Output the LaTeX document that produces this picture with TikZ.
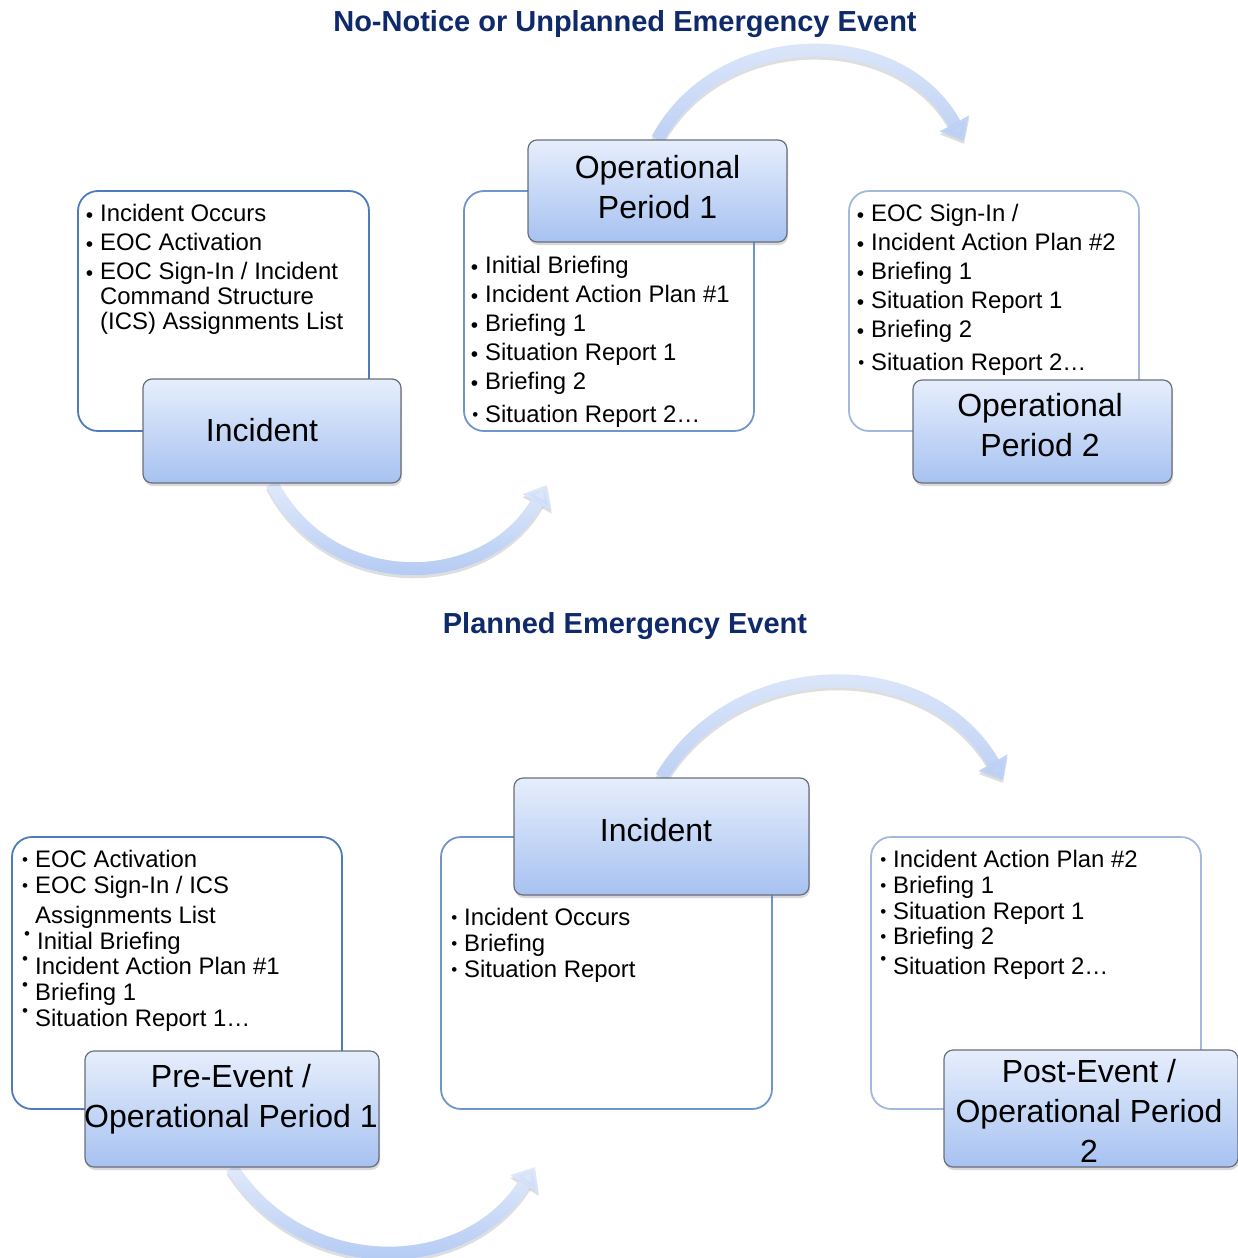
\documentclass[tikz,border=0pt]{standalone}
\usepackage{fontspec}
\setmainfont{Liberation Sans}
\usetikzlibrary{arrows.meta,shadows,fadings}
\definecolor{ttlcol}{HTML}{0F2A6B}
\definecolor{bordA}{HTML}{4E7CBA}
\definecolor{bordB}{HTML}{7095CC}
\definecolor{bordC}{HTML}{A2B8DC}
\definecolor{hdrtop}{HTML}{E6EEFC}
\definecolor{hdrbot}{HTML}{A7C2F1}
\definecolor{hdrline}{HTML}{6A6E78}
\definecolor{arrlight}{HTML}{E4ECFC}
\definecolor{arrdark}{HTML}{A9C3F1}
\definecolor{arrmid}{HTML}{BCD0F4}
\pgfdeclarelayer{bg}
\pgfsetlayers{bg,main}
\newcommand\bulmark[2]{\llap{\raisebox{#2}{\fontsize{#1}{#1}\selectfont •}\hspace{7pt}}}
\newcommand\bl{\bulmark{21}{-1pt}}
\newcommand\bm{\bulmark{17}{1.5pt}}
\newcommand\bh{\bulmark{17}{10pt}}
\tikzset{
  tbox/.style={rounded corners=20pt, line width=1.8pt, fill=white},
  hdr/.style={rounded corners=9pt, draw=hdrline, line width=1.2pt,
    top color=hdrtop, bottom color=hdrbot,
    drop shadow={shadow xshift=1pt, shadow yshift=-3pt, opacity=0.3}},
  hdrtxt/.style={font=\fontsize{32}{40}\selectfont, align=center, inner sep=0pt},
  itm/.style={anchor=base west, inner sep=0pt, font=\fontsize{23.9}{25}\selectfont},
  ttl/.style={anchor=base, inner sep=0pt, font=\fontsize{29}{32}\selectfont\bfseries, text=ttlcol},
  flow/.style={line width=13pt, -{Triangle[width=32pt,length=20pt]}},
  flowshadow/.style={flow, black, opacity=0.13, transform canvas={yshift=-3pt}},
}
\begin{document}
\begin{tikzpicture}[x=1pt,y=-1pt]
\useasboundingbox (0,0) rectangle (1238,1258);

% titles
\node[ttl] (t1) at (625,31) {No-Notice or Unplanned Emergency Event};
\node[ttl] (t2) at (625,633) {Planned Emergency Event};

% ---------- top section ----------
\node[tbox, draw=bordA, minimum width=291pt, minimum height=240pt] (bA) at (223.5,311) {};
\node[tbox, draw=bordB, minimum width=290pt, minimum height=240pt] (bB) at (609,311) {};
\node[tbox, draw=bordC, minimum width=290pt, minimum height=240pt] (bC) at (994,311) {};

\node[hdr, minimum width=258pt, minimum height=104pt] (hA) at (272,431) {};
\node[hdr, minimum width=259pt, minimum height=102pt] (hB) at (657.5,191) {};
\node[hdr, minimum width=259pt, minimum height=103pt] (hC) at (1042.5,431.5) {};

\node[hdrtxt] (hAt) at (262,430) {Incident};
\node[hdrtxt] (hBt) at (657.5,187) {Operational\\Period 1};
\node[hdrtxt] (hCt) at (1040,425.5) {Operational\\Period 2};

\node[itm] (a1) at (100,221) {\bl Incident Occurs};
\node[itm] (a2) at (100,250) {\bl EOC Activation};
\node[itm] (a3) at (100,279) {\bl EOC Sign-In / Incident};
\node[itm] (a4) at (100,304) {Command Structure};
\node[itm] (a5) at (100,329) {(ICS) Assignments List};

\node[itm] (b1) at (485,273) {\bl Initial Briefing};
\node[itm] (b2) at (485,302) {\bl Incident Action Plan \#1};
\node[itm] (b3) at (485,331) {\bl Briefing 1};
\node[itm] (b4) at (485,360) {\bl Situation Report 1};
\node[itm] (b5) at (485,389) {\bl Briefing 2};
\node[itm] (b6) at (485,422) {\bm Situation Report 2…};

\node[itm] (c1) at (871,221) {\bl EOC Sign-In /};
\node[itm] (c2) at (871,250) {\bl Incident Action Plan \#2};
\node[itm] (c3) at (871,279) {\bl Briefing 1};
\node[itm] (c4) at (871,308) {\bl Situation Report 1};
\node[itm] (c5) at (871,337) {\bl Briefing 2};
\node[itm] (c6) at (871,370) {\bm Situation Report 2…};

% ---------- bottom section ----------
\node[tbox, draw=bordA, minimum width=330pt, minimum height=272pt] (bD) at (177,973) {};
\node[tbox, draw=bordB, minimum width=331pt, minimum height=272pt] (bE) at (606.5,973) {};
\node[tbox, draw=bordC, minimum width=330pt, minimum height=272pt] (bF) at (1036,973) {};

\node[hdr, minimum width=294pt, minimum height=116pt] (hD) at (232,1109) {};
\node[hdr, minimum width=295pt, minimum height=117pt] (hE) at (661.5,836.5) {};
\node[hdr, minimum width=294pt, minimum height=117pt] (hF) at (1091,1108.5) {};

\node[hdrtxt] (hDt) at (231,1099) {Pre-Event /\\Operational Period 1};
\node[hdrtxt] (hEt) at (656,830) {Incident};
\node[hdrtxt] (hFt) at (1089,1111) {Post-Event /\\Operational Period\\2};

\node[itm] (d1) at (35,867) {\bm EOC Activation};
\node[itm] (d2) at (35,893) {\bm EOC Sign-In / ICS};
\node[itm] (d3) at (35,923) {Assignments List};
\node[itm] (d4) at (37,949) {\bh Initial Briefing};
\node[itm] (d5) at (35,974) {\bh Incident Action Plan \#1};
\node[itm] (d6) at (35,1000) {\bh Briefing 1};
\node[itm] (d7) at (35,1026) {\bh Situation Report 1…};

\node[itm] (e1) at (464,925) {\bm Incident Occurs};
\node[itm] (e2) at (464,951) {\bm Briefing};
\node[itm] (e3) at (464,977) {\bm Situation Report};

\node[itm] (f1) at (893,867) {\bm Incident Action Plan \#2};
\node[itm] (f2) at (893,893) {\bm Briefing 1};
\node[itm] (f3) at (893,919) {\bm Situation Report 1};
\node[itm] (f4) at (893,944) {\bm Briefing 2};
\node[itm] (f5) at (893,974) {\bh Situation Report 2…};

% ---------- curved arrows ----------
\coordinate (tip1) at (964,141);
\coordinate (tip2) at (547,485);
\coordinate (tip3) at (1003,780);
\coordinate (tip4) at (535,1167);

\begin{pgfonlayer}{bg}
\draw[flowshadow] (hB.north) .. controls (720,23) and (900,23) .. (tip1);
\draw[flow, arrlight] (hB.north) .. controls (720,23) and (900,23) .. (tip1);
\draw[flow, arrmid, path fading=north] (hB.north) .. controls (720,23) and (900,23) .. (tip1);

\draw[flowshadow] (hA.south) .. controls (329,594) and (485,594) .. (tip2);
\draw[flow, arrlight] (hA.south) .. controls (329,594) and (485,594) .. (tip2);
\draw[flow, arrdark, path fading=north] (hA.south) .. controls (329,594) and (485,594) .. (tip2);

\draw[flowshadow] (hE.north) .. controls (738,651) and (929,651) .. (tip3);
\draw[flow, arrlight] (hE.north) .. controls (738,651) and (929,651) .. (tip3);
\draw[flow, arrmid, path fading=north] (hE.north) .. controls (738,651) and (929,651) .. (tip3);

\draw[flowshadow] (hD.south) .. controls (302.5,1279) and (465.5,1279) .. (tip4);
\draw[flow, arrlight] (hD.south) .. controls (302.5,1279) and (465.5,1279) .. (tip4);
\draw[flow, arrdark, path fading=north] (hD.south) .. controls (302.5,1279) and (465.5,1279) .. (tip4);
\end{pgfonlayer}
\end{tikzpicture}
\end{document}
